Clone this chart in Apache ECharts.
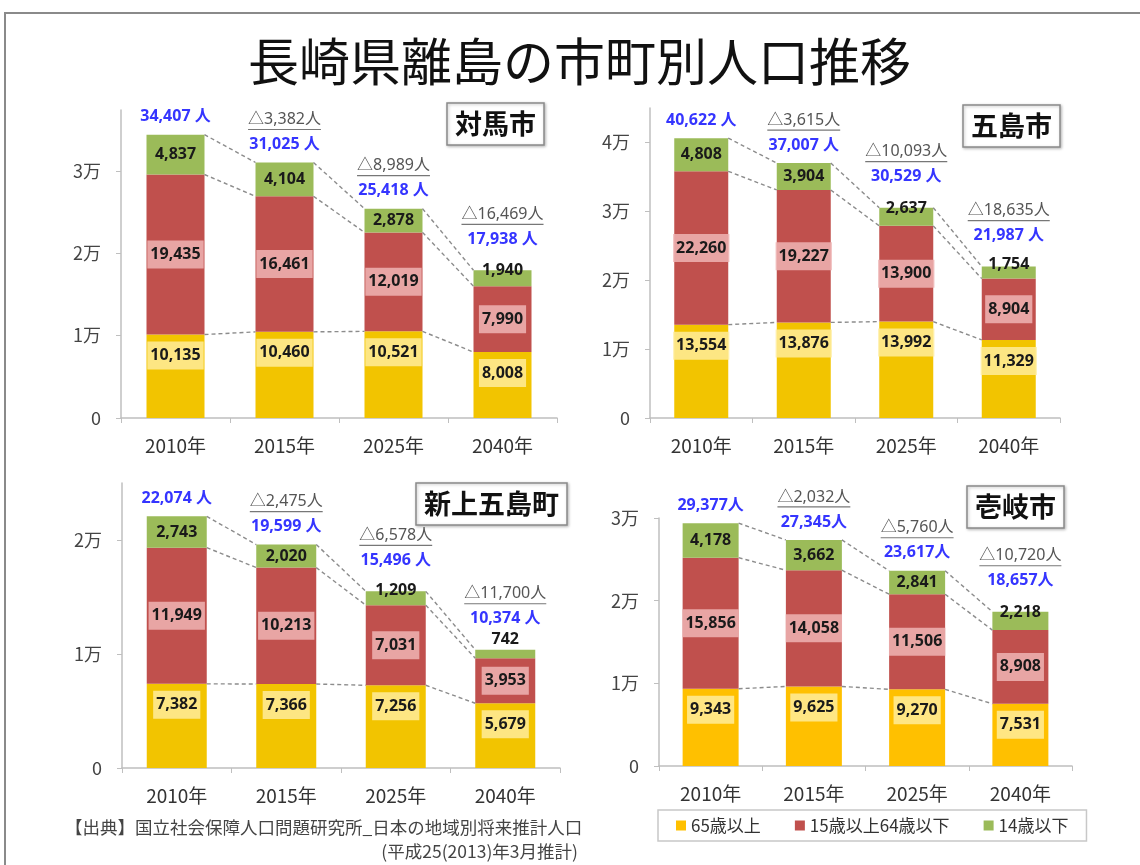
<!DOCTYPE html>
<html>

<head>
  <meta charset="utf-8">
  <title>長崎県離島の市町別人口推移</title>
  <script src="https://cdn.jsdelivr.net/npm/echarts@6/dist/echarts.min.js"></script>
  <style>
    html, body { margin: 0; padding: 0; background: #fff; }
  </style>
</head>

<body>
  <div id="main" style="width: 1140px; height: 865px;"></div>
  <script type="text/javascript">
    const years = ['2010年', '2015年', '2025年', '2040年'];
    const groupNames = ['65歳以上', '15歳以上64歳以下', '14歳以下'];

    // 対馬市
    const tsushimaOld = [10135, 10460, 10521, 8008];
    const tsushimaWork = [19435, 16461, 12019, 7990];
    const tsushimaYoung = [4837, 4104, 2878, 1940];
    const tsushimaDrop = [0, 3382, 8989, 16469];
    // 五島市
    const gotoOld = [13554, 13876, 13992, 11329];
    const gotoWork = [22260, 19227, 13900, 8904];
    const gotoYoung = [4808, 3904, 2637, 1754];
    const gotoDrop = [0, 3615, 10093, 18635];
    // 新上五島町
    const kamigotoOld = [7382, 7366, 7256, 5679];
    const kamigotoWork = [11949, 10213, 7031, 3953];
    const kamigotoYoung = [2743, 2020, 1209, 742];
    const kamigotoDrop = [0, 2475, 6578, 11700];
    // 壱岐市
    const ikiOld = [9343, 9625, 9270, 7531];
    const ikiWork = [15856, 14058, 11506, 8908];
    const ikiYoung = [4178, 3662, 2841, 2218];
    const ikiDrop = [0, 2032, 5760, 10720];

    const JP = '"Noto Sans CJK JP", "Noto Sans", sans-serif';
    const NUM = '"Noto Sans", "Noto Sans CJK JP", sans-serif';
    const RED = '#C0504D';
    const GREEN = '#9BBB59';

    const panels = [
      { name: '対馬市', old: tsushimaOld, work: tsushimaWork, young: tsushimaYoung, drop: tsushimaDrop,
        grid: { left: 121, top: 110, width: 436, height: 308 }, max: 37400, barWidth: 58,
        yellow: '#F2C400', box: [447, 103], sep: ' ' },
      { name: '五島市', old: gotoOld, work: gotoWork, young: gotoYoung, drop: gotoDrop,
        grid: { left: 650, top: 108, width: 410, height: 310 }, max: 45000, barWidth: 54,
        yellow: '#F2C400', box: [963, 105], sep: ' ' },
      { name: '新上五島町', old: kamigotoOld, work: kamigotoWork, young: kamigotoYoung, drop: kamigotoDrop,
        grid: { left: 122, top: 483, width: 438, height: 285 }, max: 25000, barWidth: 60,
        yellow: '#F2C400', box: [416, 483], sep: ' ' },
      { name: '壱岐市', old: ikiOld, work: ikiWork, young: ikiYoung, drop: ikiDrop,
        grid: { left: 659, top: 518, width: 413, height: 248 }, max: 30000, barWidth: 56,
        yellow: '#FFC000', box: [967, 486], sep: '' }
    ];

    const fmt = v => Number(v).toLocaleString('en-US');
    const ctx = document.createElement('canvas').getContext('2d');
    function textWidth(s, font) {
      ctx.font = font;
      return ctx.measureText(s).width;
    }

    const numLabel = {
      show: true,
      formatter: d => fmt(d.value),
      fontFamily: NUM,
      fontWeight: 'bold',
      fontSize: 16,
      color: '#1a1a1a'
    };

    const grids = [], xAxes = [], yAxes = [], series = [], titles = [];

    titles.push({
      text: '長崎県離島の市町別人口推移',
      left: 248, top: 36, padding: 0,
      textStyle: { fontFamily: JP, fontSize: 51, fontWeight: 'normal', color: '#111' }
    });

    panels.forEach((p, i) => {
      grids.push(Object.assign({ containLabel: false }, p.grid));
      xAxes.push({
        gridIndex: i, type: 'category', data: years,
        axisLine: { lineStyle: { color: '#bfbfbf', width: 1.5 } },
        axisTick: { show: true, length: 5, lineStyle: { color: '#bfbfbf' } },
        axisLabel: { fontFamily: JP, fontSize: 19, color: '#333', margin: 18 }
      });
      yAxes.push({
        gridIndex: i, type: 'value', min: 0, max: p.max, interval: 10000,
        splitLine: { show: false },
        axisLine: { show: true, lineStyle: { color: '#bfbfbf', width: 1.5 } },
        axisTick: { show: true, length: 5, lineStyle: { color: '#bfbfbf' } },
        axisLabel: {
          fontFamily: JP, fontSize: 18, color: '#444', margin: 20,
          showMaxLabel: p.max % 10000 === 0,
          formatter: v => (v === 0 ? '0' : (v / 10000) + '万')
        }
      });

      titles.push({
        text: p.name, left: p.box[0], top: p.box[1],
        padding: [7, 8],
        borderColor: '#8a8a8a', borderWidth: 1.5,
        shadowColor: 'rgba(0,0,0,0.25)', shadowBlur: 3, shadowOffsetX: 1, shadowOffsetY: 1,
        backgroundColor: '#fff',
        textStyle: { fontFamily: JP, fontSize: 27, fontWeight: 'bold', color: '#111', lineHeight: 28 }
      });

      const stack = 'st' + i;
      const totals = p.old.map((v, k) => v + p.work[k] + p.young[k]);
      const cumWork = p.old.map((v, k) => v + p.work[k]);
      const pxOf = v => v / p.max * p.grid.height;

      series.push({
        name: groupNames[0], type: 'bar', xAxisIndex: i, yAxisIndex: i, stack,
        barWidth: p.barWidth, itemStyle: { color: p.yellow },
        label: Object.assign({}, numLabel, {
          position: 'insideTop', distance: 7,
          backgroundColor: 'rgba(255,238,160,0.82)', padding: [6, 3]
        }),
        data: p.old
      });
      series.push({
        name: groupNames[1], type: 'bar', xAxisIndex: i, yAxisIndex: i, stack,
        barWidth: p.barWidth, itemStyle: { color: RED },
        label: Object.assign({}, numLabel, {
          position: 'inside',
          backgroundColor: 'rgba(238,180,180,0.85)', padding: [6, 3]
        }),
        data: p.work
      });
      series.push({
        name: groupNames[2], type: 'bar', xAxisIndex: i, yAxisIndex: i, stack,
        barWidth: p.barWidth, itemStyle: { color: GREEN },
        label: Object.assign({}, numLabel, { position: 'inside' }),
        data: p.young.map(v => {
          const h = pxOf(v);
          let label;
          if (h >= 22) label = { position: 'inside' };
          else if (h >= 10) label = { position: 'top', distance: -h / 2 };
          else label = { position: 'top', distance: 2 };
          return { value: v, label };
        })
      });

      // dashed connectors between neighbouring bars
      const levels = [p.old, cumWork, totals];
      const lineData = [];
      levels.forEach(lv => {
        for (let k = 0; k < lv.length - 1; k++) lineData.push([k, lv[k], lv[k + 1]]);
      });
      series.push({
        type: 'custom', xAxisIndex: i, yAxisIndex: i, silent: true, clip: false, z: 5,
        renderItem: (params, api) => {
          const a = api.coord([api.value(0), api.value(1)]);
          const b = api.coord([api.value(0) + 1, api.value(2)]);
          const hw = p.barWidth / 2;
          return {
            type: 'line',
            shape: { x1: a[0] + hw, y1: a[1], x2: b[0] - hw, y2: b[1] },
            style: { stroke: '#8c8c8c', lineWidth: 1.4, lineDash: [4, 3] }
          };
        },
        data: lineData
      });

      // totals and decrease labels above bars
      series.push({
        type: 'custom', xAxisIndex: i, yAxisIndex: i, silent: true, clip: false, z: 6,
        renderItem: (params, api) => {
          const k = api.value(0), total = api.value(1), drop = api.value(2), thin = api.value(3);
          const pt = api.coord([k, total]);
          const yT = pt[1] - (thin ? 31 : 18);
          const children = [{
            type: 'text',
            style: {
              text: fmt(total) + p.sep + '人', x: pt[0], y: yT,
              align: 'center', verticalAlign: 'middle',
              fill: '#3535ff', font: 'bold 16px ' + NUM
            }
          }];
          if (drop) {
            const s = '△' + fmt(drop) + '人';
            const font = '16px ' + NUM;
            const w = textWidth(s, font);
            const yD = yT - 25;
            children.push({
              type: 'text',
              style: {
                text: s, x: pt[0], y: yD, align: 'center', verticalAlign: 'middle',
                fill: '#555', font,
                shadowColor: 'rgba(0,0,0,0.3)', shadowBlur: 2, shadowOffsetX: 1, shadowOffsetY: 1
              }
            });
            children.push({
              type: 'line',
              shape: { x1: pt[0] - w / 2, y1: yD + 10, x2: pt[0] + w / 2, y2: yD + 10 },
              style: { stroke: '#777', lineWidth: 1.2 }
            });
          }
          return { type: 'group', children };
        },
        data: totals.map((t, k) => [k, t, p.drop[k], pxOf(p.young[k]) < 22 ? 1 : 0])
      });
    });

    const myChart = echarts.init(document.getElementById('main'));
    myChart.setOption({
      animation: false,
      backgroundColor: '#fff',
      title: titles,
      legend: {
        left: 658, top: 810,
        padding: [7, 18], itemGap: 34,
        itemWidth: 10, itemHeight: 10, icon: 'rect',
        borderColor: '#c8c8c8', borderWidth: 1.5,
        textStyle: { fontFamily: JP, fontSize: 17, color: '#333' },
        data: [
          { name: groupNames[0], itemStyle: { color: '#FFC000' } },
          { name: groupNames[1], itemStyle: { color: RED } },
          { name: groupNames[2], itemStyle: { color: GREEN } }
        ]
      },
      grid: grids,
      xAxis: xAxes,
      yAxis: yAxes,
      series: series,
      graphic: [
        {
          type: 'rect', silent: true,
          shape: { x: 5, y: 13, width: 1200, height: 900 },
          style: { fill: 'none', stroke: '#8a8a8a', lineWidth: 2 }
        },
        {
          type: 'text', left: 65, top: 819, silent: true,
          style: { text: '【出典】国立社会保障人口問題研究所_日本の地域別将来推計人口', font: '17.5px ' + JP, fill: '#444' }
        },
        {
          type: 'text', right: 1140 - 578, top: 843, silent: true,
          style: { text: '(平成25(2013)年3月推計)', font: '17.5px ' + JP, fill: '#444' }
        }
      ]
    });
  </script>
</body>

</html>
